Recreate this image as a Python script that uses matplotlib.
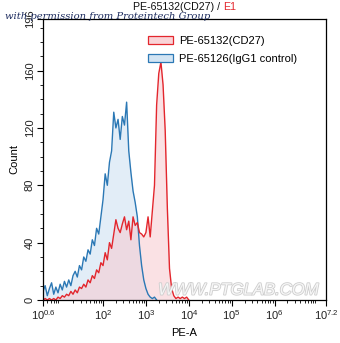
import numpy as np
import matplotlib
matplotlib.use("Agg")
import matplotlib.pyplot as plt
from matplotlib.patches import Patch
from matplotlib.ticker import FixedLocator, NullFormatter
import matplotlib.patheffects as pe

plt.rcParams["font.family"] = ["Liberation Sans", "DejaVu Sans"]
plt.rcParams["mathtext.default"] = "regular"

# histogram bins: log10(PE-A) start and bin width
bin_start = 0.60
bin_width = 0.05

# PE-65126 (IgG1 control)
counts_igg1 = [6, 10, 3, 8, 12, 4, 9, 5, 11, 7,
               13, 9, 14, 10, 17, 20, 16, 24, 21, 30,
               27, 35, 32, 42, 38, 50, 46, 58, 70, 88,
               80, 96, 104, 131, 120, 126, 112, 128, 122, 138,
               104, 89, 76, 68, 58, 38, 24, 14, 8, 4,
               2, 1, 2, 0]

# PE-65132 (CD27)
counts_cd27 = [0, 1, 0, 1, 0, 1, 0, 2, 1, 3,
               2, 4, 3, 6, 4, 7, 5, 9, 8, 11,
               9, 14, 12, 17, 15, 21, 19, 26, 24, 33,
               28, 40, 36, 46, 56, 50, 47, 53, 58, 49,
               55, 42, 58, 52, 54, 47, 46, 44, 47, 58,
               44, 62, 80, 136, 158, 166, 150, 118, 64, 22,
               8, 3, 1, 2, 1, 2, 1, 2, 0]

labels = ["PE-65132(CD27)", "PE-65126(IgG1 control)"]
x_major = [0.6, 2, 3, 4, 5, 6, 7.2]
y_major = [0, 40, 80, 120, 160, 196]

red = "#e3262d"
blue = "#2b78b5"


def bin_centers(counts):
    return 10 ** (bin_start + bin_width * np.arange(len(counts)))


fig = plt.figure(figsize=(3.4, 3.43), dpi=100)
ax = fig.add_axes([0.1265, 0.1254, 0.8323, 0.8192])

x_igg = bin_centers(counts_igg1)
x_cd = bin_centers(counts_cd27)
ax.fill_between(x_igg, counts_igg1, 0, color="#cfe2f2", alpha=0.6, lw=0)
ax.fill_between(x_cd, counts_cd27, 0, color="#f7c9cf", alpha=0.55, lw=0)
ax.plot(x_igg, counts_igg1, color=blue, lw=1.0)
ax.plot(x_cd, counts_cd27, color=red, lw=1.0)

ax.set_xscale("log")
ax.set_xlim(10 ** 0.6, 10 ** 7.2)
ax.set_ylim(0, 196)

ax.xaxis.set_major_locator(FixedLocator([10 ** v for v in x_major]))
ax.set_xticklabels(["$10^{%g}$" % v for v in x_major])
minor = [m * 10 ** k for k in range(0, 8) for m in range(2, 10)
         if 10 ** 0.6 < m * 10 ** k < 10 ** 7.2]
ax.xaxis.set_minor_locator(FixedLocator(minor))
ax.xaxis.set_minor_formatter(NullFormatter())

ax.yaxis.set_major_locator(FixedLocator(y_major))
ax.yaxis.set_minor_locator(FixedLocator(range(10, 196, 10)))
ax.set_yticklabels([str(v) for v in y_major], rotation=90, va="center")

ax.tick_params(which="major", length=4, width=0.8, labelsize=8, colors="black")
ax.tick_params(which="minor", length=2.5, width=0.6)
ax.tick_params(axis="x", pad=2, labelcolor="#222222")
ax.tick_params(axis="y", pad=2, labelcolor="#222222")
for s in ax.spines.values():
    s.set_linewidth(0.9)

ax.set_xlabel("PE-A", fontsize=8, labelpad=4)
ax.set_ylabel("Count", fontsize=8, labelpad=4)

handles = [Patch(facecolor="#f9d3d7", edgecolor=red, lw=0.9),
           Patch(facecolor="#d2e4f3", edgecolor=blue, lw=0.9)]
ax.legend(handles, labels, loc="upper left", bbox_to_anchor=(0.37, 0.94),
          frameon=False, fontsize=8, handlelength=2.25, handleheight=0.7,
          handletextpad=0.55, labelspacing=0.7, borderaxespad=0,
          borderpad=0)

# two-coloured title
t = fig.text(0.525, 0.98, "PE-65132(CD27) / ", ha="center", va="center",
             fontsize=7.7, color="#111111")
ax.annotate("E1", xy=(1, 0), xycoords=t, va="bottom", ha="left",
            fontsize=7.7, color=red)

fig.text(0.015, 0.952, "with permission from Proteintech Group",
         family="DejaVu Serif", style="italic", fontsize=7.2,
         color="#1c2b5e", ha="left", va="center")

ax.text(0.69, 0.035, "WWW.PTGLAB.COM", transform=ax.transAxes,
        ha="center", va="center", fontsize=12, style="italic",
        color="#f6f6f6",
        path_effects=[pe.withStroke(linewidth=1.2, foreground="#cdcdcd")])

fig.savefig("out.png", dpi=100)
